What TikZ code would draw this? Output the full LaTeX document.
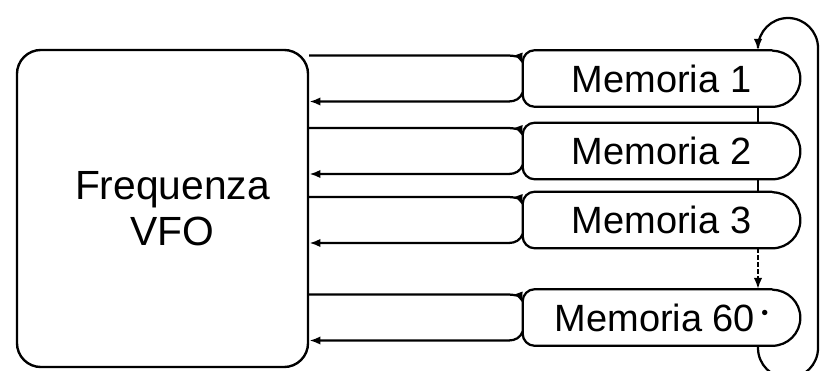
\documentclass[tikz,border=0pt]{standalone}
\usepackage{fontspec}
\setmainfont{Liberation Sans}
\usepackage{tikz}
\usetikzlibrary{arrows.meta,positioning,calc}
\tikzset{
  vfobox/.style={draw,line width=1.7pt,rounded corners=0.6cm,
    minimum width=7.275cm,minimum height=7.925cm,align=center,
    font=\fontsize{29}{33}\selectfont},
  membox/.style={minimum width=6.925cm,minimum height=1.4cm,inner sep=0pt,
    font=\fontsize{27}{30}\selectfont},
  link/.style={line width=1.6pt,-{Latex[length=8pt,width=6pt]}},
  bare/.style={line width=1.6pt}}
% outline of one memory, and the lines out and back to the VFO
\newcommand{\mlink}[1]{%
  \draw[bare] ($(#1.north east)+(-28,0)$) -- (#1.north)
    [rounded corners=0.3cm] -| (#1.west) |- (#1.south) [sharp corners]
    -- ($(#1.south east)+(-28,0)$) arc[start angle=-90,end angle=90,radius=0.7cm];
  \coordinate (#1a) at ($(#1.west)+(0,23)$);
  \coordinate (#1b) at ($(#1.west)+(0,-23)$);
  \draw[link] (vfo.east |- #1a) -- ($(#1a)+(-14,0)$)
    to[out=0,in=110] ($(#1.west)+(0,14)$);
  \draw[link] ($(#1.west)+(0,-14)$) to[out=250,in=0] ($(#1b)+(-14,0)$)
    -- (vfo.east |- #1b);}

\begin{document}
\begin{tikzpicture}[x=0.025cm,y=0.025cm]
  \useasboundingbox (0,0) rectangle (820,370);
  \node[vfobox] (vfo) at (162.5,161.5)
    {\hspace*{0.5cm}Frequenza\\\hspace*{0.5cm}VFO};
  \node[membox] (m1) at (661.5,291.5) {Memoria 1};
  \node[membox] (m2) at (661.5,219) {Memoria 2};
  \node[membox] (m3) at (661.5,150) {Memoria 3};
  \node[membox] (m60) at (661.5,52.5)
    {Memoria 60\,{\fontsize{14}{14}\selectfont\raisebox{8pt}{\textbullet}}};
  \mlink{m1}
  \mlink{m2}
  \mlink{m3}
  \mlink{m60}
  % chain on the right
  \coordinate (bus) at (758,0);
  \coordinate (loopbot) at (818,-8);
  \coordinate (looptop) at (818,352);
  \draw[bare] (m1.south -| bus) -- (m2.north -| bus);
  \draw[bare] (m2.south -| bus) -- (m3.north -| bus);
  \draw[link,dash pattern=on 3pt off 2pt] (m3.south -| bus) -- (m60.north -| bus);
  \draw[link,rounded corners=0.75cm] (m60.south -| bus) |- (loopbot)
    |- (looptop -| bus) -- (m1.north -| bus);
\end{tikzpicture}
\end{document}
